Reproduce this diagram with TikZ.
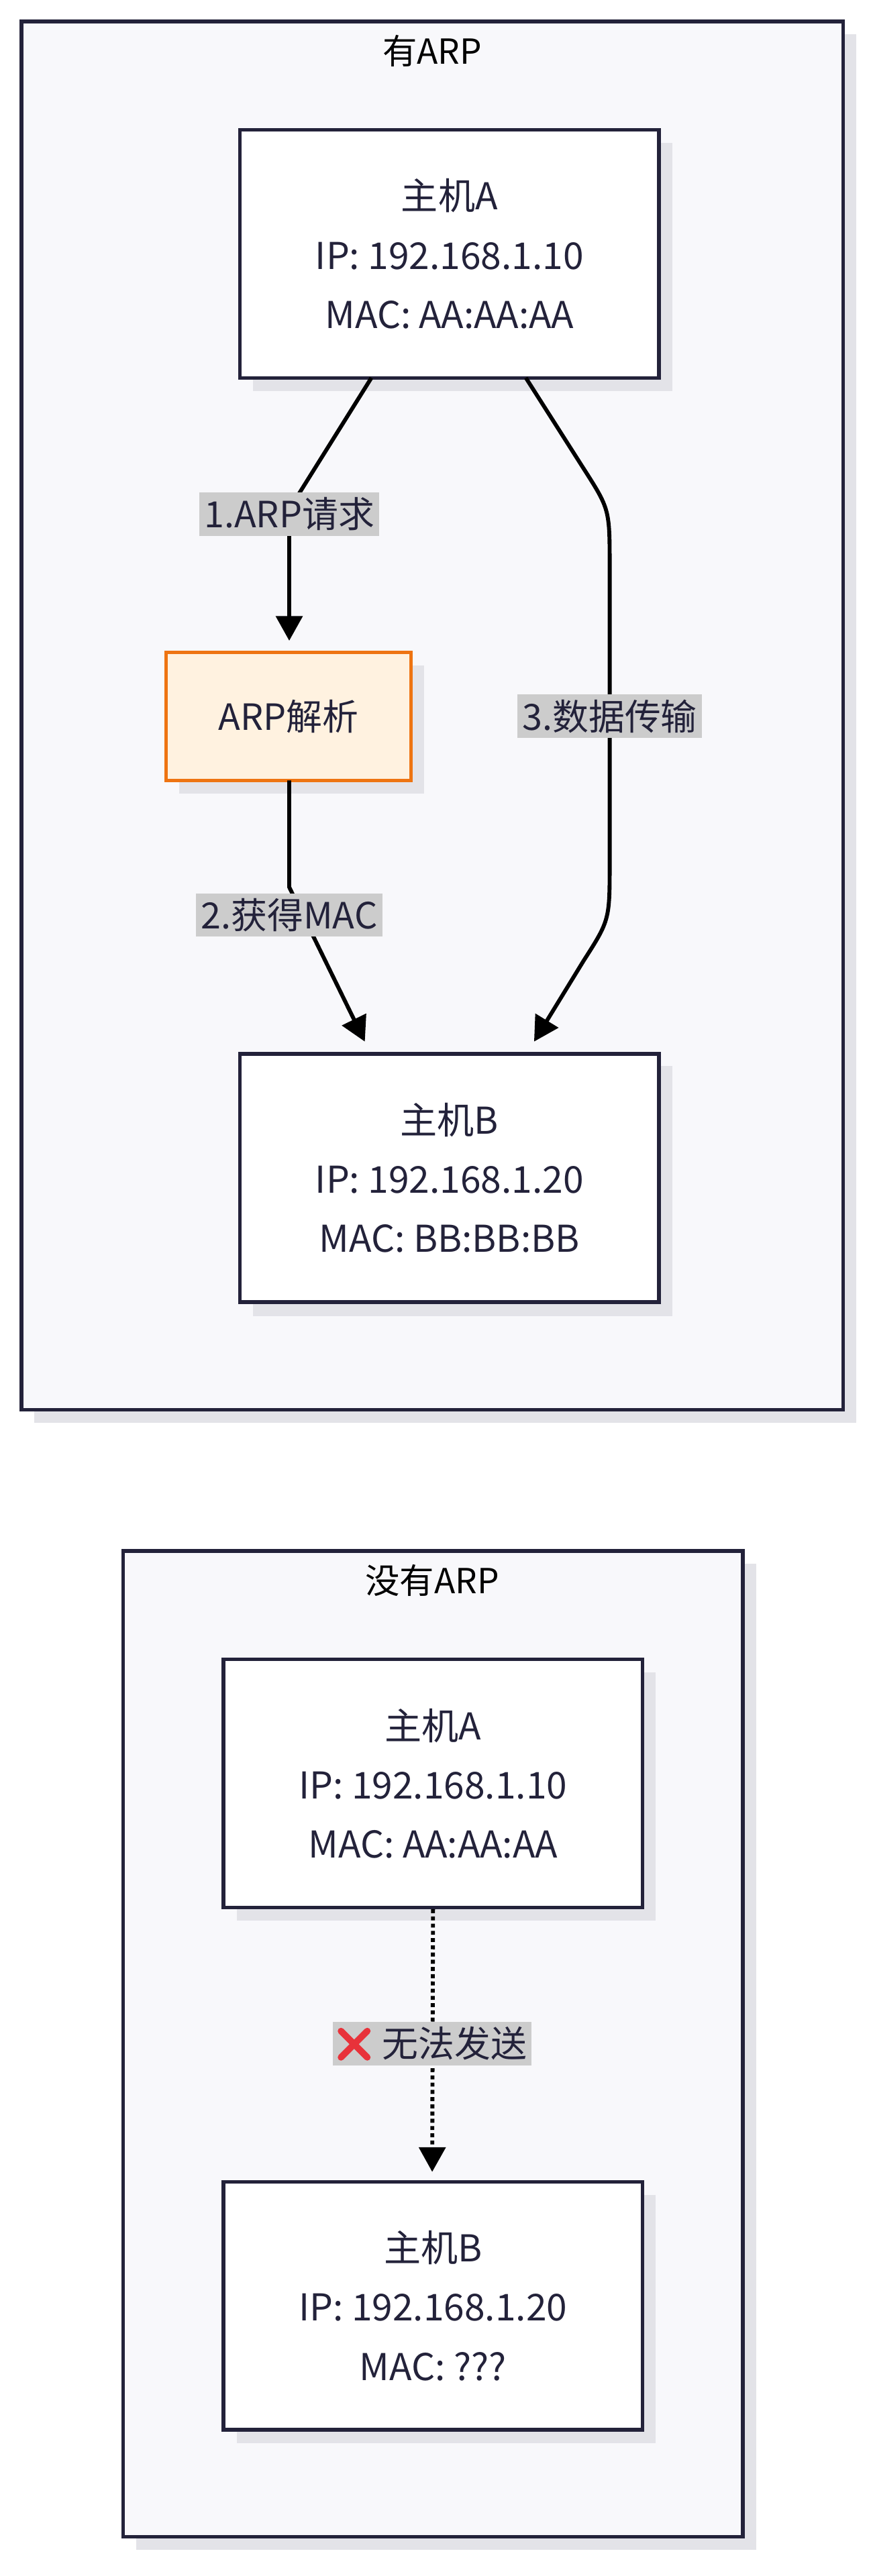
\documentclass[tikz,border=0pt]{standalone}
\usepackage{fontspec}
\setmainfont{Noto Sans CJK SC}
\usetikzlibrary{arrows.meta}
\definecolor{bd}{HTML}{23223A}
\definecolor{cl}{HTML}{F8F8FB}
\definecolor{sh}{HTML}{E3E3E8}
\definecolor{lb}{HTML}{CCCCCC}
\definecolor{orb}{HTML}{EE7412}
\definecolor{orf}{HTML}{FFF2E0}
\definecolor{xr}{HTML}{E8323A}
\newcommand{\redx}{\tikz[baseline=-8pt,x=1pt,y=1pt]{\draw[xr,line width=4pt,line cap=round] (-8,-8)--(8,8) (-8,8)--(8,-8);}}
\begin{document}
\begin{tikzpicture}[x=1pt,y=-1pt,
  host/.style={draw=bd,line width=2.2pt,fill=white,minimum width=255pt,minimum height=151pt,align=center,font=\fontsize{22.5}{36}\selectfont,text=bd},
  clu/.style={draw=bd,line width=2.2pt,fill=cl},
  lab/.style={fill=lb,inner sep=3pt,font=\fontsize{22}{24}\selectfont,text=bd},
  ar/.style={draw=black,line width=2.4pt,-{Triangle[length=15pt,width=16pt]}}]
\useasboundingbox (0,0) rectangle (530,1568);
% cluster 1
\fill[sh] (21,21) rectangle (521,866);
\draw[clu] (13,13) rectangle (513,858);
\node[font=\fontsize{21}{24}\selectfont,text=black] (t1) at (263,31) {有ARP};
\fill[sh] (154,87) rectangle (409,238);
\node[host] (a) at (273.5,154.5) {主机A\\IP: 192.168.1.10\\MAC: AA:AA:AA};
\fill[sh] (109,405) rectangle (258,483);
\node[draw=orb,fill=orf,line width=2.2pt,minimum width=149pt,minimum height=78pt,font=\fontsize{22}{24}\selectfont,text=bd] (r) at (175.5,436) {ARP解析};
\fill[sh] (154,649) rectangle (409,801);
\node[host] (b) at (273.5,717) {主机B\\IP: 192.168.1.20\\MAC: BB:BB:BB};
\coordinate (c1) at (176,310);
\coordinate (c2) at (176,540);
\draw[ar] (226,230) -- (c1) -- (176,390);
\draw[ar] (176,475) -- (c2) -- (222,634);
\draw[ar] (320,230) -- (355,285) .. controls (371,310) .. (371,345) -- (371,525) .. controls (371,560) .. (355,585) -- (325,634);
\node[lab] (l1) at (176,313) {1.ARP请求};
\node[lab] (l2) at (176,557) {2.获得MAC};
\node[lab] (l3) at (371,436) {3.数据传输};
% cluster 2
\fill[sh] (83,952) rectangle (460,1552);
\draw[clu] (75,944) rectangle (452,1544);
\node[font=\fontsize{21}{24}\selectfont,text=black] (t2) at (263,962) {没有ARP};
\fill[sh] (144,1018) rectangle (399,1169);
\node[host] (a2) at (263.5,1085.5) {主机A\\IP: 192.168.1.10\\MAC: AA:AA:AA};
\fill[sh] (144,1336) rectangle (399,1487);
\node[host] (b2) at (263.5,1403.5) {主机B\\IP: 192.168.1.20\\MAC: ???};
\draw[ar,dotted] (a2.south) -- (263,1322);
\node[lab] (l4) at (263,1244) {\redx\hspace{7pt}无法发送};
\end{tikzpicture}
\end{document}
